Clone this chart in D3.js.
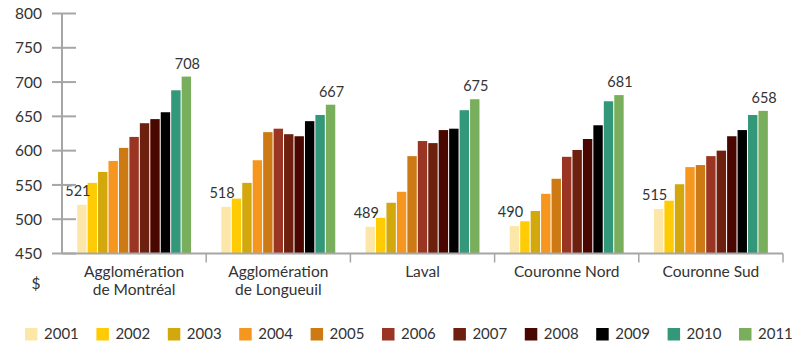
<!DOCTYPE html>
<html>
<head>
<meta charset="utf-8">
<script src="https://cdn.jsdelivr.net/npm/d3@7"></script>
<style>
  html, body { margin: 0; padding: 0; background: #fff; }
  svg { display: block; }
  text { font-family: Lato, "Open Sans", sans-serif; fill: #333; }
</style>
</head>
<body>
<svg id="chart" width="804" height="341"></svg>
<script>
// Regions (category labels, split over lines)
const regions = [
  ["Agglomération", "de Montréal"],
  ["Agglomération", "de Longueuil"],
  ["Laval"],
  ["Couronne Nord"],
  ["Couronne Sud"]
];
const years = ["2001","2002","2003","2004","2005","2006","2007","2008","2009","2010","2011"];
const yearColors = ["#fde7a8","#ffcb05","#d3a80d","#f7961e","#cd7a15","#993522","#6c200d","#4a0700","#000000","#33977a","#79ae5c"];

// Average amount ($) per region, 2001 → 2011
const montreal     = [521, 553, 569, 585, 604, 620, 640, 646, 656, 688, 708];
const longueuil    = [518, 530, 553, 586, 627, 632, 624, 621, 643, 652, 667];
const laval        = [489, 502, 524, 540, 592, 614, 611, 630, 632, 659, 675];
const couronneNord = [490, 497, 512, 537, 559, 591, 601, 617, 637, 672, 681];
const couronneSud  = [515, 527, 551, 576, 579, 592, 600, 621, 630, 652, 658];
const series = [montreal, longueuil, laval, couronneNord, couronneSud];

const yTicks = [450, 500, 550, 600, 650, 700, 750, 800];

const svg = d3.select("#chart");
const plotLeft = 62, plotRight = 783, plotTop = 13.5, plotBottom = 253.5;
const axisColor = "#a6a6a6";

const y = d3.scaleLinear().domain([450, 800]).range([plotBottom, plotTop]);

// Band boundaries (for separators) and padded bands (for the bar groups)
const xEdge = d3.scaleBand().domain(d3.range(regions.length)).range([plotLeft, plotRight]).padding(0);
const x0 = d3.scaleBand().domain(d3.range(regions.length)).range([plotLeft, plotRight])
  .paddingInner(0.21).paddingOuter(0.105);
const x1 = d3.scaleBand().domain(years).range([0, x0.bandwidth()]).paddingInner(0.1);

// Bars
const groups = svg.append("g").selectAll("g")
  .data(series)
  .join("g")
  .attr("transform", (d, i) => `translate(${x0(i)},0)`);

groups.selectAll("rect")
  .data(d => d.map((v, j) => ({ v, year: years[j], j })))
  .join("rect")
  .attr("x", d => x1(d.year))
  .attr("y", d => y(d.v))
  .attr("width", x1.bandwidth())
  .attr("height", d => y(450) - y(d.v))
  .attr("fill", d => yearColors[d.j]);

// Value labels on first and last year of each region
groups.each(function(d) {
  const g = d3.select(this);
  const first = d[0], last = d[d.length - 1];
  g.append("text")
    .attr("x", x1(years[0]) + x1.bandwidth() / 2 - 4)
    .attr("y", y(first) - 9)
    .attr("text-anchor", "middle")
    .attr("font-size", 14.5)
    .text(first);
  g.append("text")
    .attr("x", x1(years[years.length - 1]) + x1.bandwidth() / 2 + 1)
    .attr("y", y(last) - 8)
    .attr("text-anchor", "middle")
    .attr("font-size", 14.5)
    .text(last);
});

// Y axis
const yAxis = svg.append("g");
yAxis.append("line")
  .attr("x1", plotLeft).attr("x2", plotLeft)
  .attr("y1", y(800)).attr("y2", y(450))
  .attr("stroke", axisColor).attr("stroke-width", 2);
yAxis.selectAll("line.tick")
  .data(yTicks)
  .join("line")
  .attr("class", "tick")
  .attr("x1", 52).attr("x2", 76)
  .attr("y1", d => y(d)).attr("y2", d => y(d))
  .attr("stroke", axisColor).attr("stroke-width", 2);
yAxis.selectAll("text")
  .data(yTicks)
  .join("text")
  .attr("x", 42)
  .attr("y", d => y(d))
  .attr("dy", "0.36em")
  .attr("text-anchor", "end")
  .attr("font-size", 15.5)
  .text(d => d);

// X axis with separators
const xAxis = svg.append("g");
xAxis.append("line")
  .attr("x1", plotLeft).attr("x2", plotRight)
  .attr("y1", plotBottom).attr("y2", plotBottom)
  .attr("stroke", axisColor).attr("stroke-width", 2);
xAxis.selectAll("line.sep")
  .data(d3.range(1, regions.length + 1))
  .join("line")
  .attr("class", "sep")
  .attr("x1", i => xEdge(i - 1) + xEdge.bandwidth())
  .attr("x2", i => xEdge(i - 1) + xEdge.bandwidth())
  .attr("y1", plotBottom).attr("y2", plotBottom + 9)
  .attr("stroke", axisColor).attr("stroke-width", 1.5);

const catLabels = xAxis.selectAll("text.cat")
  .data(regions)
  .join("text")
  .attr("class", "cat")
  .attr("text-anchor", "middle")
  .attr("font-size", 15.5)
  .attr("transform", (d, i) => `translate(${xEdge(i) + xEdge.bandwidth() / 2},277)`);
catLabels.selectAll("tspan")
  .data(d => d)
  .join("tspan")
  .attr("x", 0)
  .attr("y", (d, k) => k * 18)
  .text(d => d);

// Unit
svg.append("text")
  .attr("x", 36).attr("y", 289)
  .attr("text-anchor", "middle")
  .attr("font-size", 15.5)
  .text("$");

// Legend
const legend = svg.append("g").selectAll("g")
  .data(years)
  .join("g")
  .attr("transform", (d, i) => `translate(${25 + i * 71.4},328)`);
legend.append("rect")
  .attr("width", 12.5).attr("height", 12.5)
  .attr("fill", (d, i) => yearColors[i]);
legend.append("text")
  .attr("x", 19).attr("y", 10.5)
  .attr("font-size", 15)
  .text(d => d);
</script>
</body>
</html>
